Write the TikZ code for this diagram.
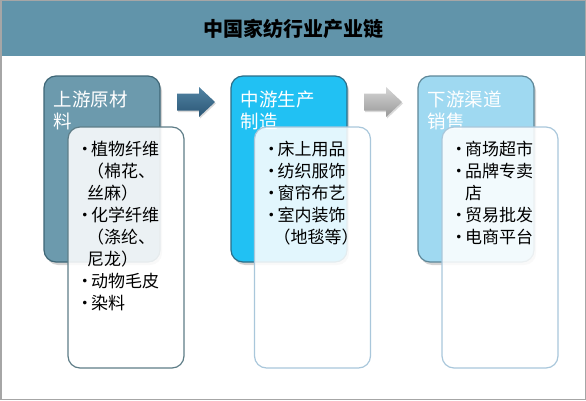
\documentclass[tikz,border=0pt]{standalone}
\usepackage{fontspec}
\setmainfont{Noto Sans CJK SC}
\usepackage{tikz}
\usetikzlibrary{shadows}
\setlength{\parindent}{0pt}

\definecolor{framegray}{HTML}{A6A6A6}
\definecolor{titlebar}{HTML}{6194AA}
\definecolor{upfill}{HTML}{6C9AAD}
\definecolor{upline}{HTML}{3E6676}
\definecolor{midfill}{HTML}{21C1F3}
\definecolor{midline}{HTML}{2B6E88}
\definecolor{downfill}{HTML}{9FD9F1}
\definecolor{downline}{HTML}{5E8798}
\definecolor{upedge}{HTML}{5E7D87}
\definecolor{lightedge}{HTML}{A9C7DB}
\definecolor{arrowtop}{HTML}{5184A4}
\definecolor{arrowbot}{HTML}{2B5675}
\definecolor{greytop}{HTML}{D6D6D6}
\definecolor{greybot}{HTML}{989898}

\newcommand{\bul}{\makebox[12.5pt][c]{•}}
\newcommand{\cont}{\hspace*{8.5pt}}

\begin{document}
\begin{tikzpicture}[x=1pt, y=1pt,
	back/.style={rectangle, rounded corners=12pt, minimum width=116pt, minimum height=186pt, line width=1.2pt, drop shadow={shadow xshift=2pt, shadow yshift=-3pt, opacity=0.35}},
	front/.style={rectangle, rounded corners=12pt, minimum width=116pt, minimum height=241pt, fill=white, fill opacity=0.87, line width=1.2pt},
	lab/.style={anchor=base west, inner sep=0pt, text width=110pt, align=left, text=white, font=\fontsize{18.5}{22}\selectfont},
	item/.style={anchor=base west, inner sep=0pt, text width=105pt, align=left, font=\fontsize{17}{22}\selectfont}]
			\useasboundingbox (0,0) rectangle (586,400);
			\node[fill=titlebar, minimum width=584pt, minimum height=55pt, inner sep=0pt] (title) at (293,371.5){\bfseries\fontsize{20}{24}\selectfont 中国家纺行业产业链};
			\draw[framegray, line width=1.5pt] (0.75,0.75) rectangle (585.25,399.25);
			
			\node[back, fill=upfill, draw=upline] (up) at (102,231){};
			\node[back, fill=midfill, draw=midline] (mid) at (289,231){};
			\node[back, fill=downfill, draw=downline] (down) at (476,231){};
			
			\node[lab] (uplab) at ([shift={(10,-31)}]up.north west){上游原材\\料};
			\node[lab] (midlab) at ([shift={(10,-31)}]mid.north west){中游生产\\制造};
			\node[lab] (downlab) at ([shift={(10,-31)}]down.north west){下游渠道\\销售};
			
			\node[front, draw=upedge] (upf) at (126,152.5){};
			\node[front, draw=lightedge] (midf) at (312.5,152.5){};
			\node[front, draw=lightedge] (downf) at (500,152.5){};
			
			\node[item] (upitems) at ([shift={(11,-29)}]upf.north west){\bul 植物纤维\\\cont （棉花、\\\cont 丝麻）\\\bul 化学纤维\\\cont （涤纶、\\\cont 尼龙）\\\bul 动物毛皮\\\bul 染料};
			\node[item] (miditems) at ([shift={(11,-29)}]midf.north west){\bul 床上用品\\\bul 纺织服饰\\\bul 窗帘布艺\\\bul 室内装饰\\\cont （地毯等）};
			\node[item] (downitems) at ([shift={(11,-29)}]downf.north west){\bul 商场超市\\\bul 品牌专卖\\\hspace*{12.5pt}店\\\bul 贸易批发\\\bul 电商平台};
			
			\coordinate (a1) at (177,298);
			\coordinate (a2) at (364,298);
			\shade[top color=arrowtop, bottom color=arrowbot, drop shadow={shadow xshift=1pt, shadow yshift=-1.5pt, opacity=0.3}] ([yshift=8.5]a1) -- ++(22,0) -- ++(0,6.5) -- ++(16,-15) -- ++(-16,-15) -- ++(0,6.5) -- ++(-22,0) -- cycle;
			\shade[top color=greytop, bottom color=greybot, drop shadow={shadow xshift=1pt, shadow yshift=-1.5pt, opacity=0.3}] ([yshift=8.5]a2) -- ++(22,0) -- ++(0,6.5) -- ++(16,-15) -- ++(-16,-15) -- ++(0,6.5) -- ++(-22,0) -- cycle;
\end{tikzpicture}
\end{document}
